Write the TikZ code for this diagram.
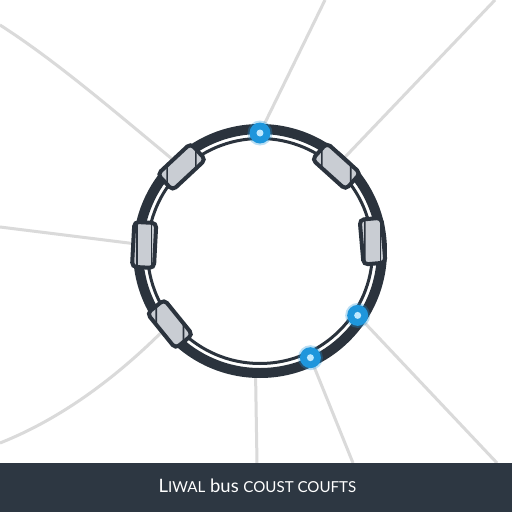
\documentclass[tikz,border=0pt]{standalone}
\usepackage{fontspec}
\newfontfamily\bannerfont{Lato}
\usetikzlibrary{backgrounds,calc}
\definecolor{ringdark}{HTML}{2B333D}
\definecolor{bannerbg}{HTML}{2D3742}
\definecolor{wire}{HTML}{DADADA}
\definecolor{partgrey}{HTML}{C9CDD3}
\definecolor{dotblue}{HTML}{1E96DC}
\definecolor{dotlight}{HTML}{BFE9FF}
\tikzset{
  wireline/.style={draw=wire,line width=0.06cm},
  part/.style={draw=ringdark,fill=partgrey,line width=0.08cm,rounded corners=2.5pt,
    minimum width=0.9cm,minimum height=0.44cm,inner sep=0pt,
    path picture={
      \foreach \t in {0.2,0.8}
        \draw[ringdark,line width=0.9pt]
          ($(path picture bounding box.south west)!\t!(path picture bounding box.south east)$) --
          ($(path picture bounding box.north west)!\t!(path picture bounding box.north east)$);
    }},
  busdot/.style={circle,fill=dotblue,minimum size=0.42cm,inner sep=0pt,
    path picture={\fill[dotlight] (path picture bounding box.center) circle (0.07cm);}},
  glow/.style={circle,fill=dotblue,opacity=0.3,minimum size=0.5cm,inner sep=0pt}
}
\begin{document}
\begin{tikzpicture}[x=0.02cm,y=0.02cm]
\useasboundingbox (-260,-261) rectangle (252,251);
% ring
\draw[ringdark,line width=0.2cm] (0,0) circle (122);
\draw[ringdark,line width=0.06cm] (0,0) circle (112.5);
% parts on the bus
\node[part,rotate=223] (pul) at (133:115) {};
\node[part,rotate=138] (pur) at (48:114) {};
\node[part,rotate=267] (pl) at (177:116) {};
\node[part,rotate=95] (pr) at (5:113) {};
\node[part,rotate=309] (pll) at (219:116) {};
% taps
\node[glow] at (90:118) {};
\node[glow] at (-33.4:117) {};
\node[glow] at (-64.7:118) {};
\node[busdot] (dtop) at (90:118) {};
\node[busdot] (dright) at (-33.4:117) {};
\node[busdot] (dbot) at (-64.7:118) {};
\coordinate (rbot) at (268:126);
% free ends
\coordinate (e1) at (-260,226);
\coordinate (e2) at (65,251);
\coordinate (e3) at (235,251);
\coordinate (e4) at (-260,24);
\coordinate (e5) at (-260,-192);
\coordinate (e6) at (-3,-212);
\coordinate (e7) at (93,-212);
\coordinate (e8) at (237,-212);
\begin{scope}[on background layer]
\fill[white] (-260,-261) rectangle (252,251);
\draw[wireline] (e1) .. controls (-207,192) and (-153,146) .. (pul);
\draw[wireline] (e2) -- (dtop);
\draw[wireline] (e3) -- (pur);
\draw[wireline] (e4) -- (pl);
\draw[wireline] (e5) .. controls (-207,-171) and (-153,-135) .. (pll);
\draw[wireline] (e6) -- (rbot);
\draw[wireline] (e7) -- (dbot);
\draw[wireline] (e8) -- (dright);
\end{scope}
% banner
\fill[bannerbg] (-260,-212) rectangle (252,-261);
\node[text=white,font=\bannerfont\fontsize{10.5}{12}\selectfont] (title) at (-2.5,-235)
  {L{\fontsize{8.6}{10}\selectfont IWAL} bus {\fontsize{8.6}{10}\selectfont COUST COUFTS}};
\end{tikzpicture}
\end{document}
